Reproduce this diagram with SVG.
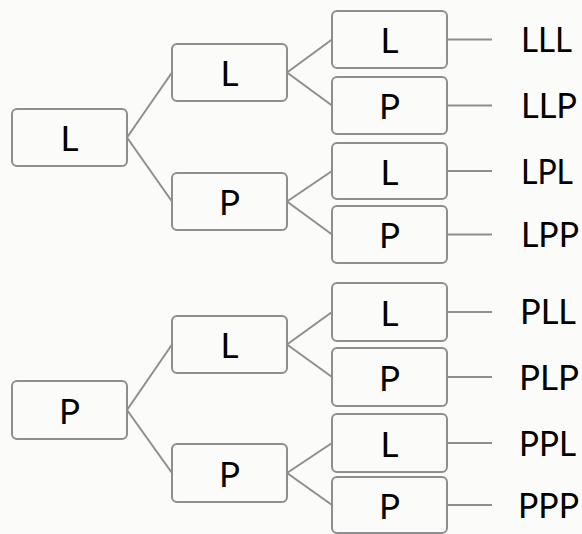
<svg xmlns="http://www.w3.org/2000/svg" width="582" height="534" viewBox="0 0 582 534">
<style>
.bg{fill:#fbfcf9}
.box rect{fill:#fbfcf9;stroke:#8e8e8e;stroke-width:2}
text{font-family:Lato,"Open Sans","DejaVu Sans",sans-serif;font-size:35px;fill:#000;text-anchor:middle}
text.leaf{text-anchor:start}
.conn line{stroke:#8e8e8e;stroke-width:2;fill:none}
</style>
<rect class="bg" x="0" y="0" width="582" height="534"/>
<g id="connectors" class="conn">
<line x1="127" y1="137.5" x2="172" y2="72.5"/>
<line x1="127" y1="137.5" x2="172" y2="201.5"/>
<line x1="287" y1="72.5" x2="332" y2="39.5"/>
<line x1="287" y1="72.5" x2="332" y2="105.5"/>
<line x1="287" y1="201.5" x2="332" y2="171"/>
<line x1="287" y1="201.5" x2="332" y2="234.5"/>
<line x1="127" y1="410" x2="172" y2="344.5"/>
<line x1="127" y1="410" x2="172" y2="473"/>
<line x1="287" y1="344.5" x2="332" y2="312"/>
<line x1="287" y1="344.5" x2="332" y2="377"/>
<line x1="287" y1="473" x2="332" y2="443"/>
<line x1="287" y1="473" x2="332" y2="505"/>
<line x1="447" y1="39.5" x2="492" y2="39.5"/>
<line x1="447" y1="105.5" x2="492" y2="105.5"/>
<line x1="447" y1="171" x2="492" y2="171"/>
<line x1="447" y1="234.5" x2="492" y2="234.5"/>
<line x1="447" y1="312" x2="492" y2="312"/>
<line x1="447" y1="377" x2="492" y2="377"/>
<line x1="447" y1="443" x2="492" y2="443"/>
<line x1="447" y1="505" x2="492" y2="505"/>
</g>
<g id="n-root-L" class="box"><rect x="12" y="109" width="115" height="57" rx="5"/><text x="69.5" y="151">L</text></g>
<g id="n-L" class="box"><rect x="172" y="44" width="115" height="57" rx="5"/><text x="229.5" y="86">L</text></g>
<g id="n-LP" class="box"><rect x="172" y="173" width="115" height="57" rx="5"/><text x="229.5" y="215">P</text></g>
<g id="n-LLL" class="box"><rect x="332" y="11" width="115" height="57" rx="5"/><text x="389.5" y="53">L</text></g>
<g id="n-LLP" class="box"><rect x="332" y="77" width="115" height="57" rx="5"/><text x="389.5" y="119">P</text></g>
<g id="n-LPL" class="box"><rect x="332" y="143" width="115" height="56" rx="5"/><text x="389.5" y="184.5">L</text></g>
<g id="n-LPP" class="box"><rect x="332" y="206" width="115" height="57" rx="5"/><text x="389.5" y="248">P</text></g>
<g id="n-root-P" class="box"><rect x="12" y="381" width="115" height="58" rx="5"/><text x="69.5" y="423.5">P</text></g>
<g id="n-PL" class="box"><rect x="172" y="316" width="115" height="57" rx="5"/><text x="229.5" y="358">L</text></g>
<g id="n-PP" class="box"><rect x="172" y="444" width="115" height="58" rx="5"/><text x="229.5" y="486.5">P</text></g>
<g id="n-PLL" class="box"><rect x="332" y="283" width="115" height="58" rx="5"/><text x="389.5" y="325.5">L</text></g>
<g id="n-PLP" class="box"><rect x="332" y="348" width="115" height="58" rx="5"/><text x="389.5" y="390.5">P</text></g>
<g id="n-PPL" class="box"><rect x="332" y="414" width="115" height="58" rx="5"/><text x="389.5" y="456.5">L</text></g>
<g id="n-PPP" class="box"><rect x="332" y="477" width="115" height="56" rx="5"/><text x="389.5" y="518.5">P</text></g>
<g id="leaves">
<text class="leaf" x="521" y="52" textLength="51" lengthAdjust="spacingAndGlyphs">LLL</text>
<text class="leaf" x="521" y="118" textLength="56" lengthAdjust="spacingAndGlyphs">LLP</text>
<text class="leaf" x="521" y="183.5" textLength="52" lengthAdjust="spacingAndGlyphs">LPL</text>
<text class="leaf" x="521" y="247" textLength="58" lengthAdjust="spacingAndGlyphs">LPP</text>
<text class="leaf" x="520" y="324" textLength="56" lengthAdjust="spacingAndGlyphs">PLL</text>
<text class="leaf" x="519" y="389.5" textLength="60" lengthAdjust="spacingAndGlyphs">PLP</text>
<text class="leaf" x="519" y="455.5" textLength="57" lengthAdjust="spacingAndGlyphs">PPL</text>
<text class="leaf" x="518" y="517.5" textLength="61" lengthAdjust="spacingAndGlyphs">PPP</text>
</g>
</svg>
